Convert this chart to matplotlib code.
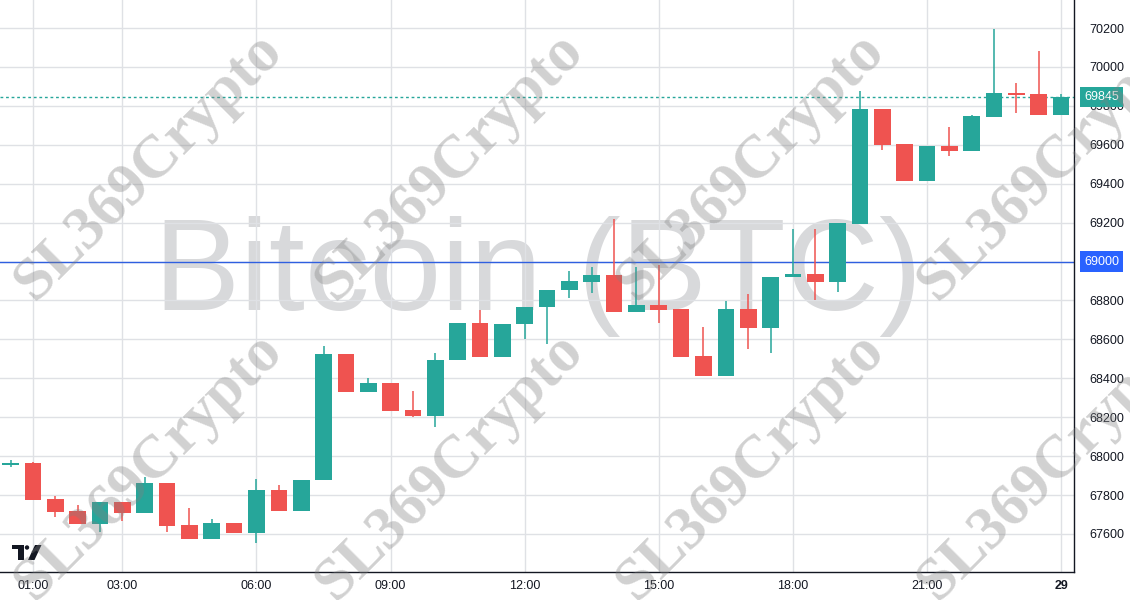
import matplotlib
matplotlib.use("Agg")
import matplotlib.pyplot as plt
import matplotlib.dates as mdates
import matplotlib.transforms as mtransforms
from matplotlib.patches import Polygon, Circle
import pandas as pd

# ---------------- data ----------------
times = pd.date_range("2024-03-28 00:30", periods=48, freq="30min")
opens = [67955, 67965, 67780, 67718, 67653, 67764, 67709, 67862, 67646, 67576,
         67656, 67607, 67826, 67720, 67877, 68525, 68331, 68377, 68237, 68208,
         68494, 68684, 68511, 68679, 68766, 68854, 68895, 68931, 68742, 68777,
         68756, 68516, 68413, 68756, 68660, 68921, 68936, 68896, 69195, 69784,
         69604, 69415, 69594, 69570, 69745, 69868, 69861, 69755]
highs = [67980, 67970, 67797, 67749, 67765, 67764, 67893, 67862, 67734, 67677,
         67656, 67883, 67852, 67880, 68566, 68525, 68403, 68377, 68335, 68530,
         68684, 68751, 68679, 68766, 68854, 68951, 68973, 69219, 68973, 68982,
         68756, 68665, 68799, 68833, 68921, 69167, 69167, 69200, 69876, 69784,
         69604, 69594, 69691, 69754, 70195, 69919, 70082, 69862]
lows = [67945, 67775, 67689, 67650, 67612, 67668, 67709, 67612, 67576, 67576,
        67607, 67555, 67720, 67720, 67877, 68331, 68331, 68233, 68203, 68151,
        68494, 68511, 68511, 68603, 68578, 68814, 68840, 68742, 68742, 68686,
        68511, 68413, 68413, 68552, 68532, 68921, 68802, 68845, 69195, 69575,
        69415, 69415, 69544, 69570, 69745, 69765, 69755, 69755]
closes = [67962, 67775, 67715, 67653, 67764, 67709, 67862, 67643, 67576, 67656,
          67607, 67826, 67720, 67877, 68525, 68331, 68377, 68233, 68208, 68494,
          68684, 68511, 68679, 68766, 68854, 68900, 68931, 68742, 68777, 68752,
          68511, 68413, 68756, 68660, 68921, 68936, 68896, 69200, 69784, 69600,
          69415, 69594, 69570, 69748, 69866, 69857, 69755, 69845]

last_price = 69845
level_line = 69000
y_ticks = [67600, 67800, 68000, 68200, 68400, 68600, 68800, 69000, 69200,
           69400, 69600, 69800, 70000, 70200]
x_tick_times = pd.to_datetime(["2024-03-28 01:00", "2024-03-28 03:00", "2024-03-28 06:00",
                               "2024-03-28 09:00", "2024-03-28 12:00", "2024-03-28 15:00",
                               "2024-03-28 18:00", "2024-03-28 21:00", "2024-03-29 00:00"])
x_tick_labels = ["01:00", "03:00", "06:00", "09:00", "12:00", "15:00", "18:00", "21:00", "29"]
title_watermark = "Bitcoin (BTC)"
brand_watermark = "SL369Crypto"

# ---------------- style ----------------
UP = "#26a69a"
DOWN = "#ef5350"
TXT = "#131722"
GRID = "#dfe1e5"

W, H = 1130, 600
fig = plt.figure(figsize=(W / 100, H / 100), dpi=100)
ax = fig.add_axes([0, 28 / H, 1074 / W, 572 / H])

xnum = mdates.date2num(times)
hour = 1 / 24.0
day0 = mdates.date2num(pd.Timestamp("2024-03-28 00:00"))
ax.set_xlim(day0 + 0.2617 * hour, day0 + 24.289 * hour)
ax.set_ylim(67404.7, 70343.9)

colors = [UP if c >= o else DOWN for o, c in zip(opens, closes)]
bottoms = [min(o, c) for o, c in zip(opens, closes)]
heights = [max(abs(c - o), 8) for o, c in zip(opens, closes)]

ax.vlines(xnum, lows, highs, colors=colors, linewidth=1.1, zorder=3)
ax.bar(xnum, heights, bottom=bottoms, width=0.373 * hour, color=colors,
       linewidth=0, zorder=4)

# grid
ax.set_yticks(y_ticks)
# the 69000 tick label is hidden beneath the blue level box, which shows the same value
ax.set_yticklabels(["" if v == level_line else str(v) for v in y_ticks])
ax.set_xticks(mdates.date2num(x_tick_times))
ax.set_xticklabels(x_tick_labels)
ax.grid(True, color=GRID, linewidth=1)
ax.set_axisbelow(True)

for lab in ax.get_xticklabels():
    if lab.get_text() == "29":
        lab.set_fontweight("bold")

ax.yaxis.tick_right()
ax.tick_params(axis="both", length=0, colors=TXT, labelsize=9)
ax.tick_params(axis="y", pad=11)
ax.tick_params(axis="x", pad=6)
for lab in ax.get_xticklabels() + ax.get_yticklabels():
    lab.set_fontfamily("Liberation Sans")

for s in ["top", "left"]:
    ax.spines[s].set_visible(False)
for s in ["right", "bottom"]:
    ax.spines[s].set_color(TXT)
    ax.spines[s].set_linewidth(1)

# level and last price lines
ax.axhline(level_line, color="#2f5fe0", linewidth=1, zorder=2)
ax.axhline(last_price, color=UP, linewidth=1, linestyle=(0, (2, 2)), zorder=2)

trans = mtransforms.blended_transform_factory(ax.transAxes, ax.transData)
ax.text(1.0095, last_price, str(last_price), transform=trans, ha="left", va="center",
        color="white", fontsize=9, fontfamily="Liberation Sans", clip_on=False, zorder=10,
        bbox=dict(boxstyle="square,pad=0.34", fc=UP, ec="none"))
ax.text(1.0095, level_line, str(level_line), transform=trans, ha="left", va="center",
        color="white", fontsize=9, fontfamily="Liberation Sans", clip_on=False, zorder=10,
        bbox=dict(boxstyle="square,pad=0.34", fc="#2962ff", ec="none"))

# big watermark
ax.text(538 / 1074, (572 - 310) / 572, title_watermark, transform=ax.transAxes,
        ha="center", va="baseline", fontsize=93, fontfamily="Liberation Sans",
        color="#d8d9db", zorder=0.4)

# diagonal brand watermarks
for cx in [149, 450, 751, 1052]:
    for cy in [166, 466]:
        fig.text(cx / W, 1 - cy / H, brand_watermark, rotation=45, rotation_mode="anchor",
                 ha="center", va="center", fontsize=44, fontweight="bold",
                 fontfamily="Liberation Serif", color=(0.5, 0.5, 0.5), alpha=0.36,
                 zorder=20)

# TradingView logo (pixel coords)
def px(x, y):
    return (x / 100.0, (H - y) / 100.0)

logo_kw = dict(transform=fig.dpi_scale_trans, facecolor="#131722", edgecolor="none", zorder=15)
fig.add_artist(Polygon([px(12, 545), px(23.5, 545), px(23.5, 560), px(18, 560),
                        px(18, 549), px(12, 549)], closed=True, **logo_kw))
fig.add_artist(Circle(px(27, 547.5), 0.022, **logo_kw))
fig.add_artist(Polygon([px(28, 560), px(34.5, 560), px(41.5, 545), px(35, 545)],
                       closed=True, **logo_kw))

fig.savefig("out.png", dpi=100)
